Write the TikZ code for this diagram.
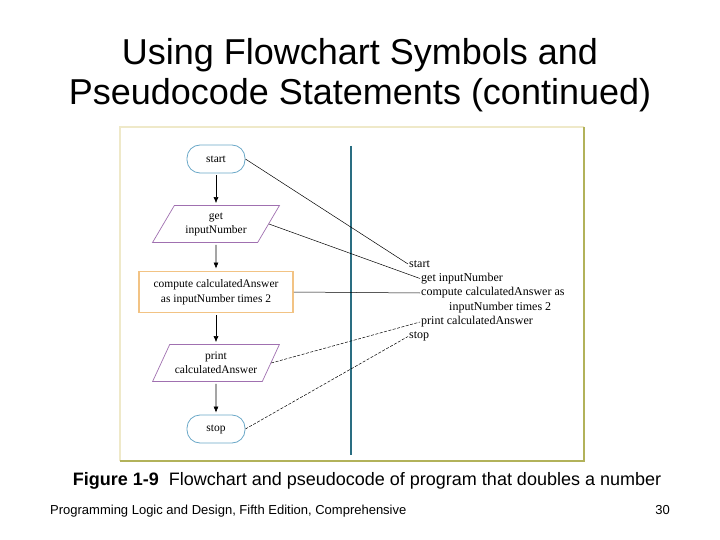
\documentclass[tikz,border=0pt]{standalone}
\usepackage{fontspec}
\setmainfont{Liberation Serif}
\newfontfamily\arialf{Liberation Sans}
\usetikzlibrary{shapes.geometric,arrows.meta}
\definecolor{termblue}{HTML}{6AA8C8}
\definecolor{parapurple}{HTML}{A070B0}
\definecolor{procorange}{HTML}{F2C384}
\definecolor{framelight}{HTML}{EFE9C9}
\definecolor{framedark}{HTML}{B2B25A}
\definecolor{divteal}{HTML}{2A6E82}
\tikzset{
  terminal/.style={draw=termblue, line width=0.8pt, rounded corners=13pt, minimum width=58pt, minimum height=28pt, inner sep=0pt, font=\fontsize{11.5}{12}\selectfont, align=center},
  iobox/.style={draw=parapurple, line width=0.7pt, trapezium, trapezium left angle=55, trapezium right angle=125, trapezium stretches=true, minimum width=127pt, minimum height=37pt, inner sep=0pt, font=\fontsize{11.5}{14}\selectfont, align=center},
  procbox/.style={draw=procorange, line width=1.8pt, minimum width=154pt, minimum height=41pt, inner sep=0pt, font=\fontsize{11.5}{15}\selectfont, align=center},
  flowarrow/.style={-{Latex[length=6pt,width=5pt]}, line width=0.6pt, black, shorten <=2pt, shorten >=2pt},
  pcode/.style={anchor=west, inner sep=1pt, font=\fontsize{12}{13}\selectfont},
  link/.style={line width=0.5pt, black},
  dlink/.style={line width=0.5pt, black, dash pattern=on 3pt off 1.5pt},
}
\begin{document}
\begin{tikzpicture}[x=1pt,y=-1pt]
\fill[white] (0,0) rectangle (720,540);
\useasboundingbox (0,0) rectangle (720,540);
% title
\node[font=\arialf\fontsize{36}{40}\selectfont, align=center, inner sep=0pt] (title) at (360,75) {Using Flowchart Symbols and\\Pseudocode Statements (continued)};
% frame
\fill[white] (120,127) rectangle (584,461);
\draw[framelight, line width=1.6pt] (120,461) -- (120,127) -- (584,127);
\draw[framedark, line width=1.6pt] (584,127) -- (584,461) -- (120,461);
% divider
\draw[divteal, line width=1.5pt] (351,146) -- (351,455);
% flowchart
\node[terminal] (start) at (216,159) {start};
\node[iobox] (get) at (216,224) {get\\inputNumber};
\node[procbox] (comp) at (216,292) {compute calculatedAnswer\\as inputNumber times 2};
\node[iobox] (print) at (216,363) {print\\calculatedAnswer};
\node[terminal] (stop) at (216,429) {stop};
\draw[flowarrow] (start) -- (get);
\draw[flowarrow] (get) -- (comp);
\draw[flowarrow] (comp) -- (print);
\draw[flowarrow] (print) -- (stop);
% pseudocode
\node[pcode] (p1) at (408,264) {start};
\node[pcode] (p2) at (420,278.5) {get inputNumber};
\node[pcode] (p3) at (420,293) {compute calculatedAnswer as};
\node[pcode] (p3b) at (448,307.5) {inputNumber times 2};
\node[pcode] (p4) at (420,322) {print calculatedAnswer};
\node[pcode] (p5) at (408,336.5) {stop};
\draw[link] (start.east) -- (p1.west);
\draw[link] (get.east) -- (p2.west);
\draw[link] (comp.east) -- (p3.west);
\draw[dlink] (print.east) -- (p4.west);
\draw[dlink] (stop.east) -- (p5.west);
% caption and footer
\node[font=\arialf\fontsize{18}{20}\selectfont, inner sep=0pt] (cap) at (367,481) {\textbf{Figure 1-9}\ \ Flowchart and pseudocode of program that doubles a number};
\node[font=\arialf\fontsize{13}{15}\selectfont, anchor=base west, inner sep=0pt] (foot) at (50,514.5) {Programming Logic and Design, Fifth Edition, Comprehensive};
\node[font=\arialf\fontsize{13}{15}\selectfont, anchor=base east, inner sep=0pt] (page) at (670,514.5) {30};
\end{tikzpicture}
\end{document}
